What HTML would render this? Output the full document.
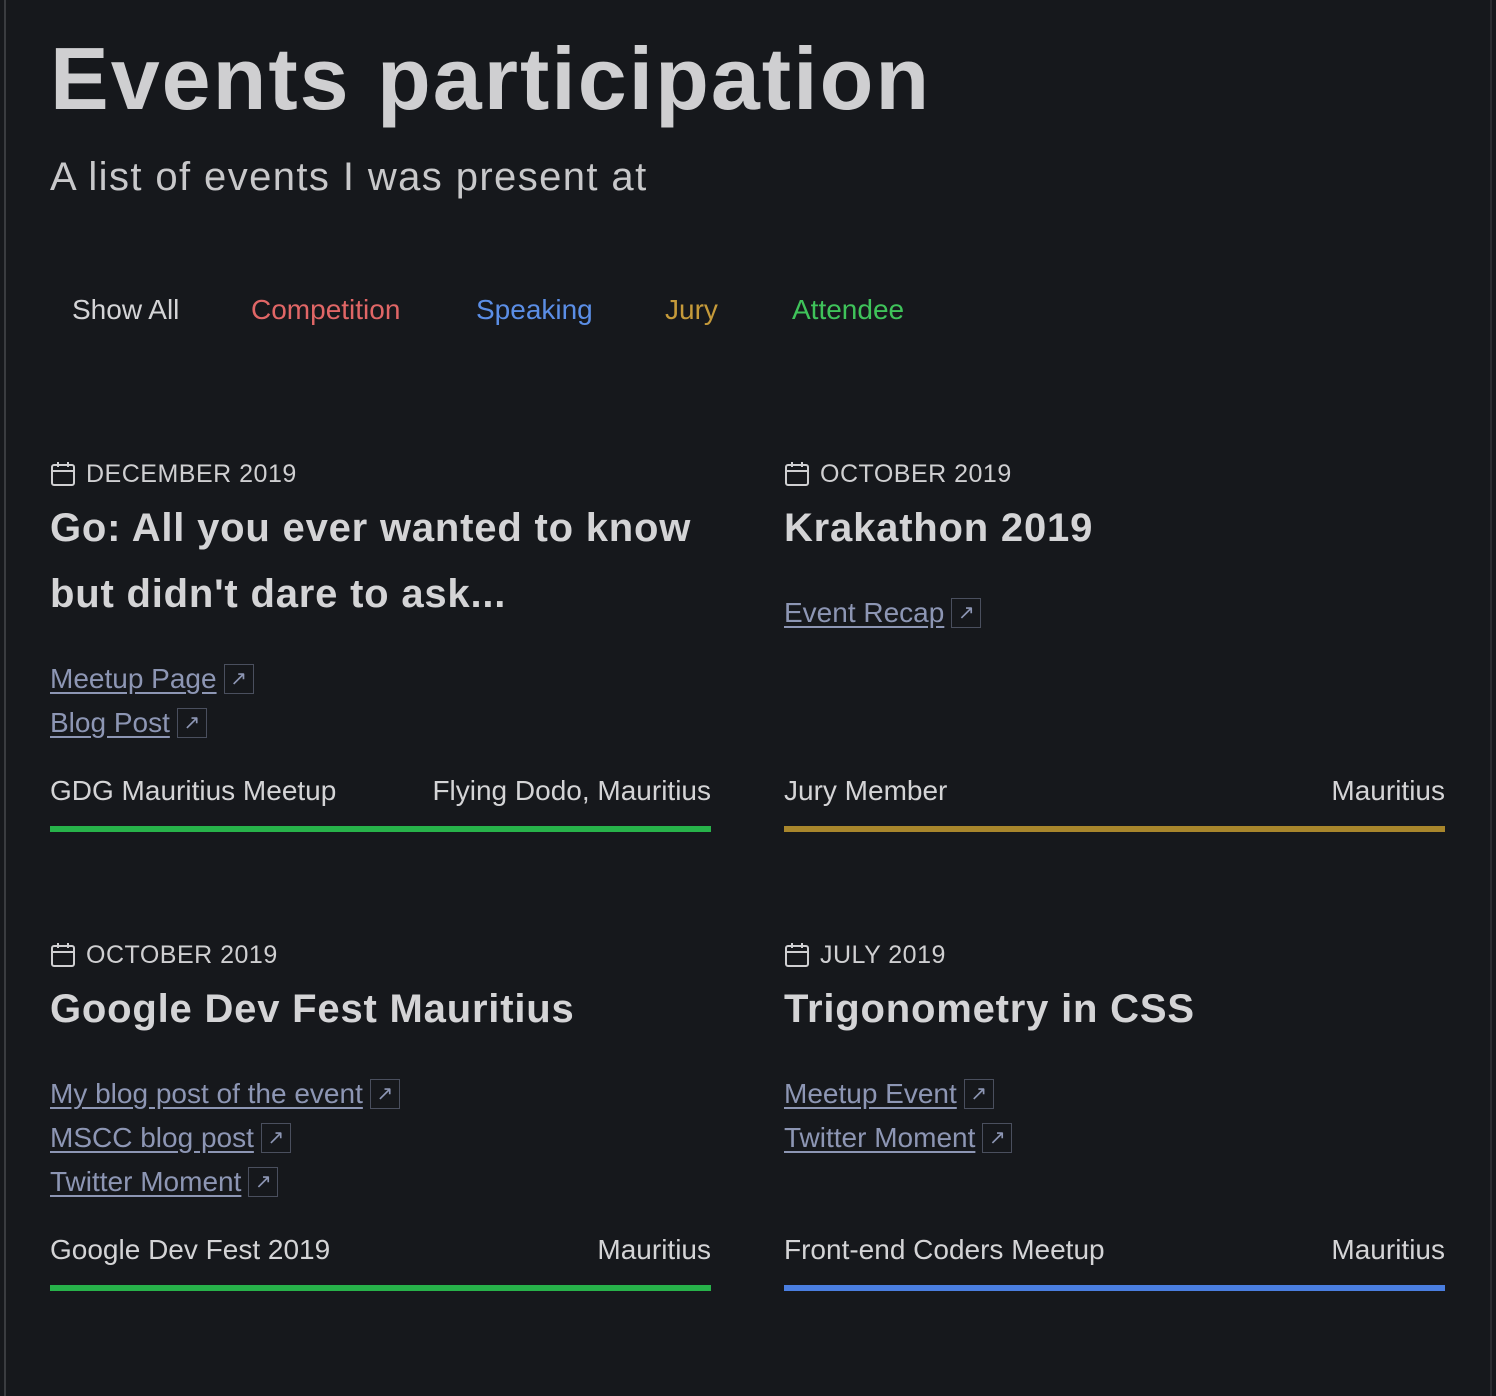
<!DOCTYPE html>
<html><head><meta charset="utf-8"><style>
body{margin:0;width:1496px;height:1396px;background:#16181c;font-family:"Liberation Sans",sans-serif;color:#d4d4d6;overflow:hidden;position:relative}
.border{position:absolute;left:4px;top:0;width:2px;height:1396px;background:#3a3c40}
.border2{position:absolute;right:4px;top:0;width:2px;height:1396px;background:#2a2c30}
h1{position:absolute;left:50px;top:24px;margin:0;font-size:88px;font-weight:bold;letter-spacing:2px;color:#cfcfd1;line-height:110px;white-space:nowrap}
.sub{position:absolute;left:50px;top:152px;font-size:40px;color:#c8c8ca;line-height:50px;letter-spacing:1.4px}
.filters span{position:absolute;top:292px;font-size:28px;line-height:36px}
.card{position:absolute;width:661px}
.date{font-size:25px;letter-spacing:0.5px;color:#cfcfd1;height:30px;line-height:30px;display:flex;align-items:center}
.date svg{margin-right:10px}
.title{font-size:40px;font-weight:bold;line-height:66px;color:#d4d4d6;margin-top:6px;letter-spacing:0.8px}
.links{margin-top:30px}
.link{font-size:28px;line-height:44px;color:#8d96b4;display:flex;align-items:center}
.link a{color:#8d96b4;text-decoration:underline;text-underline-offset:4px}
.ext{display:inline-block;width:30px;height:30px;border:1px solid #4a4f5e;margin-left:7px;box-sizing:border-box;text-align:center;line-height:28px;font-size:20px}
.foot{position:absolute;left:0;right:0;display:flex;justify-content:space-between;font-size:28px;color:#d4d4d6}
.bar{position:absolute;left:0;right:0;height:6px}
</style></head><body>
<div class="border"></div>
<div class="border2"></div>
<h1>Events participation</h1>
<div class="sub">A list of events I was present at</div>
<div class="filters">
<span style="left:72px;color:#d4d4d6">Show All</span>
<span style="left:251px;color:#e06666">Competition</span>
<span style="left:476px;color:#5b8ee6">Speaking</span>
<span style="left:665px;color:#c59a3a">Jury</span>
<span style="left:792px;color:#3fc35a">Attendee</span>
</div>

<div class="card" style="left:50px;top:459px;height:374px">
<div class="date"><svg width="26" height="26" viewBox="0 0 26 26" fill="none" stroke="#cfcfd1" stroke-width="2"><rect x="2" y="4" width="22" height="20" rx="2"/><line x1="2" y1="10" x2="24" y2="10"/><line x1="8" y1="1" x2="8" y2="6"/><line x1="18" y1="1" x2="18" y2="6"/></svg>DECEMBER 2019</div>
<div class="title">Go: All you ever wanted to know but didn't dare to ask...</div>
<div class="links"><div class="link"><a>Meetup Page</a><span class="ext">↗</span></div><div class="link"><a>Blog Post</a><span class="ext">↗</span></div></div>
<div class="foot" style="top:316px"><span>GDG Mauritius Meetup</span><span>Flying Dodo, Mauritius</span></div>
<div class="bar" style="top:367px;background:#27b24a"></div>
</div>

<div class="card" style="left:784px;top:459px;height:374px">
<div class="date"><svg width="26" height="26" viewBox="0 0 26 26" fill="none" stroke="#cfcfd1" stroke-width="2"><rect x="2" y="4" width="22" height="20" rx="2"/><line x1="2" y1="10" x2="24" y2="10"/><line x1="8" y1="1" x2="8" y2="6"/><line x1="18" y1="1" x2="18" y2="6"/></svg>OCTOBER 2019</div>
<div class="title">Krakathon 2019</div>
<div class="links"><div class="link"><a>Event Recap</a><span class="ext">↗</span></div></div>
<div class="foot" style="top:316px"><span>Jury Member</span><span>Mauritius</span></div>
<div class="bar" style="top:367px;background:#a8862c"></div>
</div>

<div class="card" style="left:50px;top:940px;height:374px">
<div class="date"><svg width="26" height="26" viewBox="0 0 26 26" fill="none" stroke="#cfcfd1" stroke-width="2"><rect x="2" y="4" width="22" height="20" rx="2"/><line x1="2" y1="10" x2="24" y2="10"/><line x1="8" y1="1" x2="8" y2="6"/><line x1="18" y1="1" x2="18" y2="6"/></svg>OCTOBER 2019</div>
<div class="title">Google Dev Fest Mauritius</div>
<div class="links"><div class="link"><a>My blog post of the event</a><span class="ext">↗</span></div><div class="link"><a>MSCC blog post</a><span class="ext">↗</span></div><div class="link"><a>Twitter Moment</a><span class="ext">↗</span></div></div>
<div class="foot" style="top:294px"><span>Google Dev Fest 2019</span><span>Mauritius</span></div>
<div class="bar" style="top:345px;background:#27b24a"></div>
</div>

<div class="card" style="left:784px;top:940px;height:374px">
<div class="date"><svg width="26" height="26" viewBox="0 0 26 26" fill="none" stroke="#cfcfd1" stroke-width="2"><rect x="2" y="4" width="22" height="20" rx="2"/><line x1="2" y1="10" x2="24" y2="10"/><line x1="8" y1="1" x2="8" y2="6"/><line x1="18" y1="1" x2="18" y2="6"/></svg>JULY 2019</div>
<div class="title">Trigonometry in CSS</div>
<div class="links"><div class="link"><a>Meetup Event</a><span class="ext">↗</span></div><div class="link"><a>Twitter Moment</a><span class="ext">↗</span></div></div>
<div class="foot" style="top:294px"><span>Front-end Coders Meetup</span><span>Mauritius</span></div>
<div class="bar" style="top:345px;background:#4a7ee0"></div>
</div>
</body></html>
